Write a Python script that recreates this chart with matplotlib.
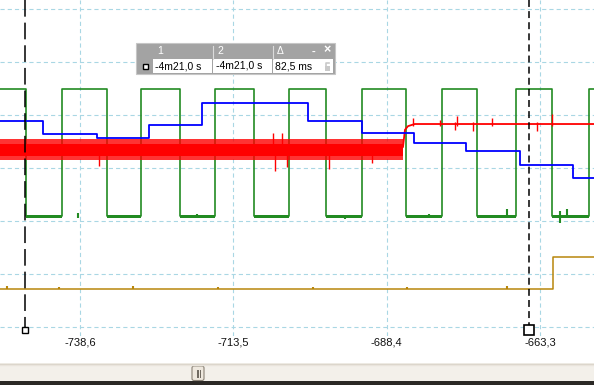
import numpy as np
import matplotlib.pyplot as plt
from matplotlib.patches import Rectangle, FancyBboxPatch

plt.rcParams['font.family'] = ['Liberation Sans', 'DejaVu Sans']
plt.rcParams['lines.scale_dashes'] = False

# time in ms, levels in screen divisions (0 = lowest grid line)
x_ticks = [-738.6, -713.5, -688.4, -663.3]
x_labels = ['-738,6', '-713,5', '-688,4', '-663,3']
x_min, x_max = -751.7, -654.45
y_min, y_max = -0.17, 6.17

green_t = [-751.7, -747.44, -741.55, -734.18, -728.61, -722.23, -716.50, -710.12,
           -704.39, -698.33, -692.44, -685.23, -679.34, -673.61, -667.23, -661.33,
           -655.28, -654.45]
green_v = [4.49, 2.09, 4.49, 2.09, 4.49, 2.09, 4.49, 2.09,
           4.49, 2.09, 4.49, 2.09, 4.49, 2.09, 4.49, 2.09, 4.49, 4.49]
green_low_noise = 0.035
green_glitch_t = [-738.9, -719.5, -695.2, -681.5, -668.7, -660.0, -658.9]
green_glitch_lo = [2.05, 2.06, 2.03, 2.06, 2.06, 1.96, 2.05]
green_glitch_hi = [2.15, 2.13, 2.11, 2.14, 2.22, 2.18, 2.23]

blue_t = [-751.7, -744.66, -735.82, -727.30, -718.63, -701.28, -692.44,
          -683.92, -675.41, -666.57, -657.90, -654.45]
blue_v = [3.89, 3.64, 3.57, 3.81, 4.23, 3.89, 3.66,
          3.47, 3.32, 3.06, 2.81, 2.81]

red_noise_t = [-751.7, -685.72]
red_core_lo, red_core_hi = 3.23, 3.45
red_fuzz_lo, red_fuzz_hi = 3.15, 3.54
red_t = [-685.72, -685.4, -684.9, -683.8, -654.45]
red_v = [3.40, 3.72, 3.79, 3.83, 3.83]
red_spike_t = [-735.49, -707.01, -706.68, -705.53, -704.71, -697.84, -690.80,
               -684.09, -679.67, -677.21, -676.88, -674.27, -671.16, -663.79, -661.33]
red_spike_lo = [3.04, 3.40, 2.94, 3.40, 3.02, 2.98, 3.09,
                3.80, 3.80, 3.72, 3.80, 3.70, 3.80, 3.70, 3.80]
red_spike_hi = [3.30, 3.66, 3.30, 3.66, 3.30, 3.30, 3.30,
                3.94, 3.91, 3.86, 3.98, 3.86, 3.94, 3.86, 4.02]

gold_t = [-751.7, -661.17, -654.45]
gold_v = [0.72, 1.32, 1.32]
gold_glitch_t = [-750.5, -742.0, -730.0, -716.0, -700.5, -685.0, -668.7]
gold_glitch_v = [0.77, 0.76, 0.78, 0.76, 0.76, 0.75, 0.78]

cursor_t = [-747.6, -665.1]

fig = plt.figure(figsize=(5.94, 3.85), dpi=100)
ax = fig.add_axes([0, 49 / 385, 1, 336 / 385])
ax.set_xlim(x_min, x_max)
ax.set_ylim(y_min, y_max)
for s in ax.spines.values():
    s.set_visible(False)
ax.set_xticks(x_ticks, x_labels)
ax.set_yticks(range(0, 7))
ax.tick_params(axis='both', length=0)
ax.tick_params(axis='x', pad=1.0, labelsize=8, labelcolor='#111111')
ax.set_yticklabels([])
ax.grid(True, color='#a9d7e4', linestyle=(0, (3, 2.2)), linewidth=0.8)
ax.set_axisbelow(True)

# traces
ax.step(gold_t, gold_v, where='post', color='#b8860b', lw=1.1, zorder=2)
ax.vlines(gold_glitch_t, 0.72, gold_glitch_v, color='#b8860b', lw=1.5, zorder=2)
ax.step(green_t, green_v, where='post', color='#228b22', lw=1.2, zorder=3)
# fuzzy low level of the green trace
for i in range(len(green_t) - 1):
    if green_v[i] < 3:
        ax.fill_between([green_t[i], green_t[i + 1]], green_v[i] - green_low_noise,
                        green_v[i] + green_low_noise * 0.6, color='#228b22', lw=0, zorder=3)
ax.vlines(green_glitch_t, green_glitch_lo, green_glitch_hi, color='#228b22', lw=1.5, zorder=3)
ax.fill_between(red_noise_t, red_fuzz_lo, red_fuzz_hi, color='#ff0000', alpha=0.8, lw=0, zorder=4)
ax.fill_between(red_noise_t, red_core_lo, red_core_hi, color='#ff0000', lw=0, zorder=4)
ax.plot(red_t, red_v, color='#ff0000', lw=1.3, zorder=4)
ax.vlines(red_spike_t, red_spike_lo, red_spike_hi, color='#ff0000', lw=1.0, zorder=4)
ax.step(blue_t, blue_v, where='post', color='#0000ff', lw=1.3, zorder=5)

# cursors
ax.plot([cursor_t[0]] * 2, [y_max, 0], color='black', lw=1.1, linestyle=(0, (12, 4.3)), zorder=6)
ax.plot([cursor_t[1]] * 2, [y_max, 0.04], color='black', lw=1.1, linestyle=(0, (5, 3)), zorder=6)
ax.plot(cursor_t[0], -0.057, 's', ms=5, mfc='white', mec='black', mew=1.0, clip_on=False, zorder=7)
ax.plot(cursor_t[1], -0.057, 's', ms=7.5, mfc='white', mec='black', mew=1.2, clip_on=False, zorder=7)

# window chrome in pixel coordinates
ov = fig.add_axes([0, 0, 1, 1], zorder=10)
ov.set_xlim(0, 594)
ov.set_ylim(385, 0)
ov.axis('off')

# scrollbar
ov.add_patch(Rectangle((0, 363), 594, 18, fc='#f3f0ea', ec='none'))
ov.plot([0, 594], [363.5, 363.5], color='#d9d3c9', lw=1)
ov.plot([0, 594], [365, 365], color='#e9e4dc', lw=1)
ov.add_patch(Rectangle((0, 381), 594, 4, fc='#2b2825', ec='none'))
ov.add_patch(FancyBboxPatch((192, 366), 12, 14.5, boxstyle='round,pad=0,rounding_size=2',
                            fc='#eee8de', ec='#8a8276', lw=0.8))
for xl in [196.5, 198.2, 199.9]:
    ov.plot([xl, xl], [369.5, 377], color='#6d675f', lw=0.7)

# cursor info box
ov.add_patch(Rectangle((136, 43), 199, 31, fc='#a3a3a3', ec='#c6c6c6', lw=0.8))
for x0, w in [(153, 59), (213, 59), (273, 60)]:
    ov.add_patch(Rectangle((x0, 59), w, 13.5, fc='white', ec='none'))
for xs in [212.5, 272.5]:
    ov.plot([xs, xs], [46, 58.5], color='#dcdcdc', lw=0.8)
ov.add_patch(Rectangle((143, 64), 5, 5, fc='white', ec='black', lw=1.0))
hdr = dict(color='white', fontsize=7.5, va='center', ha='left')
ov.text(157, 51.5, '1', **hdr)
ov.text(217, 51.5, '2', **hdr)
ov.text(276.5, 51.5, 'Δ', **hdr)
ov.text(312, 51.5, '-', color='white', fontsize=8, fontweight='bold', va='center', ha='left')
ov.text(323.5, 50, '×', color='white', fontsize=9, fontweight='bold', va='center', ha='left')
body = dict(color='black', fontsize=7.5, va='center', ha='left')
ov.text(155, 66.5, '-4m21,0 s', **body)
ov.text(216, 66, '-4m21,0 s', **body)
ov.text(275, 66.5, '82,5 ms', **body)
ov.add_patch(Rectangle((324.5, 66), 5.5, 5, fc='#c9c9c9', ec='none'))
ov.plot([325.5, 325.5, 328.5], [66, 62.5, 62.5], color='#c9c9c9', lw=1.2)

fig.savefig('out.png', dpi=100)
